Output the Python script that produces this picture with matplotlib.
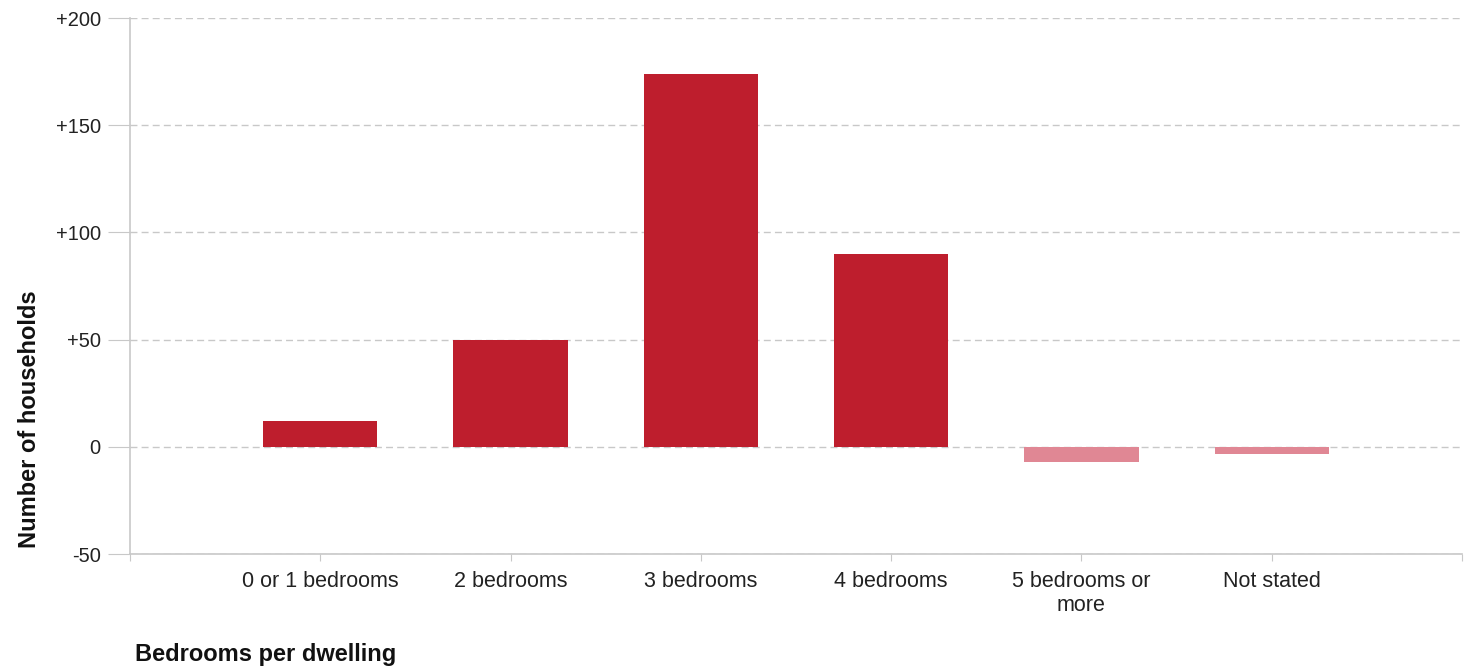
import matplotlib.pyplot as plt

categories = ['0 or 1 bedrooms', '2 bedrooms', '3 bedrooms', '4 bedrooms',
              '5 bedrooms or\nmore', 'Not stated']
changes = [12, 50, 174, 90, -7, -3.5]
y_ticks = [-50, 0, 50, 100, 150, 200]
y_labels = ['-50', '0', '+50', '+100', '+150', '+200']

POS_COLOR = '#BE1E2D'
NEG_COLOR = '#E08794'
GRID = '#C8C8C8'

plt.rcParams['font.family'] = ['Liberation Sans', 'DejaVu Sans']

fig = plt.figure(figsize=(14.71, 6.67), dpi=100)
ax = fig.add_axes([130 / 1471, 1 - 554 / 667, 1332 / 1471, 536 / 667])

x = list(range(len(categories)))
colors = [POS_COLOR if v >= 0 else NEG_COLOR for v in changes]
ax.bar(x, changes, width=0.6, color=colors, zorder=3)

ax.set_xlim(-1, len(categories))
ax.set_ylim(-50, 200)

# ticks at every category plus both ends
ax.set_xticks([-1] + x + [len(categories)])
ax.set_xticklabels([''] + categories + [''], fontsize=15.5, color='#222222')
ax.set_yticks(y_ticks)
ax.set_yticklabels(y_labels, fontsize=14.5, color='#222222')

ax.tick_params(axis='x', length=5, color=GRID, pad=7)
ax.tick_params(axis='y', length=16, color=GRID, pad=5)

ax.grid(axis='y', color=GRID, linestyle=(0, (5, 3)), linewidth=1, zorder=1)
ax.set_axisbelow(True)

for side in ['top', 'right']:
    ax.spines[side].set_visible(False)
for side in ['left', 'bottom']:
    ax.spines[side].set_color(GRID)
    ax.spines[side].set_linewidth(1.2)

fig.text(30 / 1471, 1 - 419 / 667, 'Number of households', rotation=90,
         ha='center', va='center', fontsize=17, fontweight='bold', color='#111111')
fig.text(135 / 1471, 1 - 655 / 667, 'Bedrooms per dwelling',
         ha='left', va='center', fontsize=17, fontweight='bold', color='#111111')

fig.savefig('out.png', dpi=100)
